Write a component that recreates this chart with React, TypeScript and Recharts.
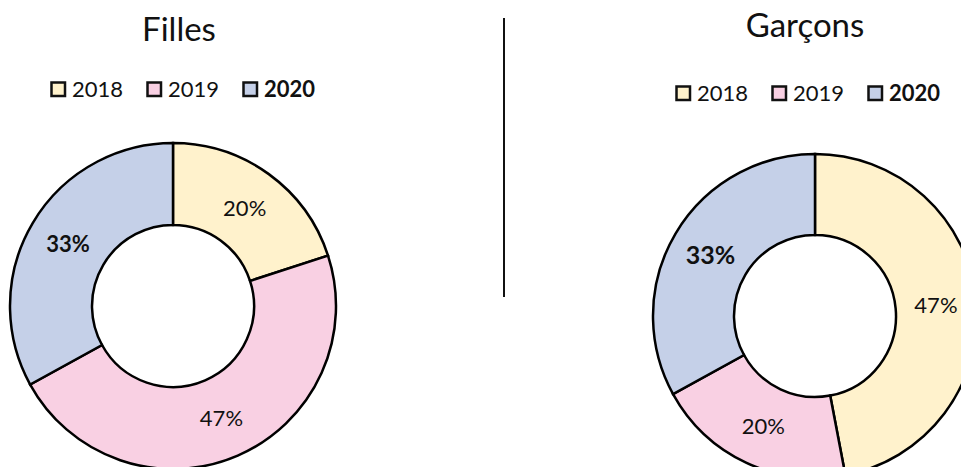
import React from 'react'
import { PieChart, Pie, Cell } from 'recharts'

const years = ['2018', '2019', '2020']
const filles = [20, 47, 33]
const garcons = [47, 20, 33]
const colors = ['#FFF2CC', '#F9D0E3', '#C5D0E8']
const FONT = 'Lato, "Open Sans", sans-serif'
const RAD = Math.PI / 180

const fillesData = years.map((y, i) => ({ name: y, value: filles[i] }))
const garconsData = years.map((y, i) => ({ name: y, value: garcons[i] }))

function makeLabel(big: boolean) {
  return (p: any) => {
    const r = (p.innerRadius + p.outerRadius) / 2
    const x = p.cx + r * Math.cos(-p.midAngle * RAD)
    const y = p.cy + r * Math.sin(-p.midAngle * RAD)
    const bold = p.index === 2
    return (
      <text x={x} y={y} textAnchor="middle" dominantBaseline="central" fill="#111"
        fontFamily={FONT} fontSize={big && bold ? 25 : 22} fontWeight={bold ? 700 : 400}>
        {p.value}%
      </text>
    )
  }
}

function Legend({ x0, y }: { x0: number; y: number }) {
  return (
    <g>
      {years.map((yr, i) => {
        const x = x0 + i * 96
        return (
          <g key={yr}>
            <rect x={x + 1.5} y={y - 14.5} width={13.5} height={13.5} fill={colors[i]} stroke="#111" strokeWidth={2.5} />
            <text x={x + 22} y={y} fontFamily={FONT} fontSize={22} fill="#111" fontWeight={i === 2 ? 700 : 400}>{yr}</text>
          </g>
        )
      })}
    </g>
  )
}

export default function App() {
  return (
    <div style={{ position: 'absolute', left: 0, top: 0, width: 961, height: 467, background: '#fff', overflow: 'hidden' }}>
      <PieChart width={961} height={467} margin={{ top: 0, right: 0, bottom: 0, left: 0 }}>
        <Pie data={fillesData} dataKey="value" nameKey="name" cx={173} cy={306} innerRadius={81} outerRadius={163}
          startAngle={90} endAngle={-270} stroke="#000" strokeWidth={2.5} label={makeLabel(false)} labelLine={false}
          isAnimationActive={false}>
          {fillesData.map((d, i) => <Cell key={d.name} fill={colors[i]} />)}
        </Pie>
        <Pie data={garconsData} dataKey="value" nameKey="name" cx={815} cy={316} innerRadius={81} outerRadius={162}
          startAngle={90} endAngle={-270} stroke="#000" strokeWidth={2.5} label={makeLabel(true)} labelLine={false}
          isAnimationActive={false}>
          {garconsData.map((d, i) => <Cell key={d.name} fill={colors[i]} />)}
        </Pie>
      </PieChart>
      <svg width={961} height={467} style={{ position: 'absolute', left: 0, top: 0, pointerEvents: 'none' }}>
        <text x={179} y={41} textAnchor="middle" fontFamily={FONT} fontSize={33} fill="#111">Filles</text>
        <text x={805} y={37} textAnchor="middle" fontFamily={FONT} fontSize={33} fill="#111">Garçons</text>
        <Legend x0={50} y={97} />
        <Legend x0={675} y={101} />
        <line x1={504} y1={18} x2={504} y2={297} stroke="#111" strokeWidth={2} />
      </svg>
    </div>
  )
}
